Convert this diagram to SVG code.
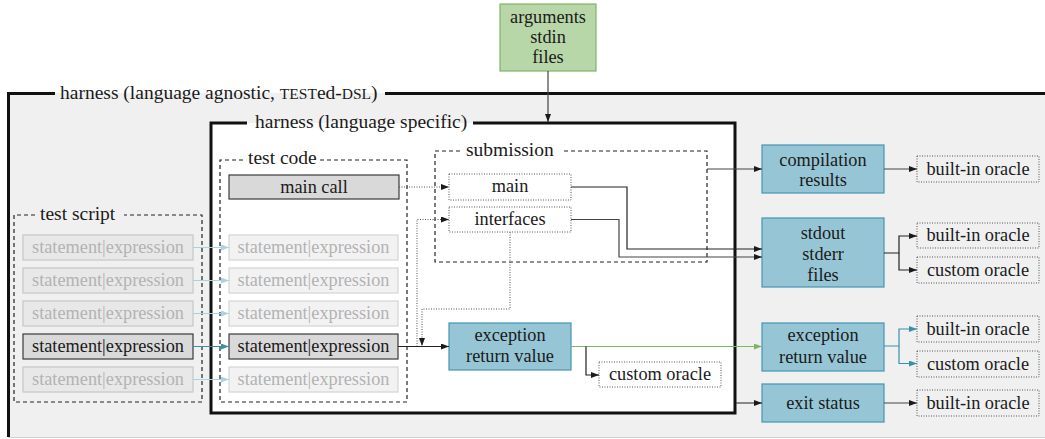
<svg xmlns="http://www.w3.org/2000/svg" width="1045" height="439" viewBox="0 0 1045 439">
<style>
text{font-family:"Liberation Serif","Times New Roman",serif;fill:#1a1a1a;text-anchor:middle}
.t{font-size:18.3px}
.ttl{font-size:19.5px;text-anchor:start}
.sc{font-size:15.5px}
.fade{fill:#b3b3b3}
.dash{fill:none;stroke:#222;stroke-width:1.2;stroke-dasharray:4 3}
.dot{fill:none;stroke:#555;stroke-width:1;stroke-dasharray:1 1.5}
.blue{fill:#96c6d5;stroke:#4396b2;stroke-width:1.2}
.stm{fill:#e8e8e8;stroke:#c6c6c6;stroke-width:1.2}
.stm2{fill:#f2f2f2;stroke:#d4d4d4;stroke-width:1.2}
.act{fill:#d9d9d9;stroke:#3a3a3a;stroke-width:1.2}
.c{fill:none;stroke:#222;stroke-width:1.2}
.cg{fill:none;stroke:#444;stroke-width:1.2}
.ct{fill:none;stroke:#3d8fa8;stroke-width:1.2}
.cl{fill:none;stroke:#a9d3e0;stroke-width:1.2}
</style>
<defs>
<marker id="ab" viewBox="0 0 8 6" refX="8" refY="3" markerWidth="8" markerHeight="6" markerUnits="userSpaceOnUse" orient="auto"><path d="M0,0L8,3L0,6z" fill="#1a1a1a"/></marker>
<marker id="at" viewBox="0 0 8 6" refX="8" refY="3" markerWidth="8" markerHeight="6" markerUnits="userSpaceOnUse" orient="auto"><path d="M0,0L8,3L0,6z" fill="#3d8fa8"/></marker>
<marker id="al" viewBox="0 0 8 6" refX="8" refY="3" markerWidth="8" markerHeight="6" markerUnits="userSpaceOnUse" orient="auto"><path d="M0,0L8,3L0,6z" fill="#a9d3e0"/></marker>
<marker id="ag" viewBox="0 0 8 6" refX="8" refY="3" markerWidth="8" markerHeight="6" markerUnits="userSpaceOnUse" orient="auto"><path d="M0,0L8,3L0,6z" fill="#82b366"/></marker>
</defs>

<g id="harness-agnostic">
<rect x="8" y="93" width="1040" height="344" fill="#f0f0f0"/>
<line x1="8" y1="437.5" x2="1045" y2="437.5" stroke="#d0d0d0" stroke-width="1"/>
<path d="M55,93.5H8.5V437" fill="none" stroke="#111" stroke-width="3"/>
<path d="M385,93.5H1045" fill="none" stroke="#111" stroke-width="3"/>
<text class="ttl" x="60" y="98.5">harness (language agnostic, <tspan class="sc">TEST</tspan>ed-<tspan class="sc">DSL</tspan>)</text>
</g>

<g id="harness-specific">
<rect x="211" y="123" width="524" height="290" fill="#fff"/>
<path d="M247,123H211V413H735V123H473" fill="none" stroke="#111" stroke-width="3"/>
<text class="ttl" x="255" y="128">harness (language specific)</text>
</g>

<g id="inputs">
<rect x="500" y="4" width="96" height="67" fill="#b8d7a8" stroke="#82b366" stroke-width="1.2"/>
<text class="t" x="548" y="23">arguments</text>
<text class="t" x="548" y="43">stdin</text>
<text class="t" x="548" y="63">files</text>
</g>

<g id="test-script">
<path class="dash" d="M35,215H14V402H202V215H124"/>
<text class="ttl" x="40" y="219.5">test script</text>
<rect class="stm" x="23" y="235" width="170" height="25"/>
<text class="t fade" x="108" y="253">statement|expression</text>
<rect class="stm" x="23" y="268" width="170" height="25"/>
<text class="t fade" x="108" y="286">statement|expression</text>
<rect class="stm" x="23" y="301" width="170" height="25"/>
<text class="t fade" x="108" y="319">statement|expression</text>
<rect class="act" x="23" y="334" width="170" height="25"/>
<text class="t" x="108" y="352">statement|expression</text>
<rect class="stm" x="23" y="367" width="170" height="25"/>
<text class="t fade" x="108" y="385">statement|expression</text>
</g>

<g id="test-code">
<path class="dash" d="M243,160H220V402H407V160H320"/>
<text class="ttl" x="248" y="164">test code</text>
<rect class="act" x="229" y="175" width="170" height="24"/>
<text class="t" x="314" y="192.5">main call</text>
<rect class="stm2" x="229" y="235" width="169" height="25"/>
<text class="t fade" x="313.5" y="253">statement|expression</text>
<rect class="stm2" x="229" y="268" width="169" height="25"/>
<text class="t fade" x="313.5" y="286">statement|expression</text>
<rect class="stm2" x="229" y="301" width="169" height="25"/>
<text class="t fade" x="313.5" y="319">statement|expression</text>
<rect class="act" x="229" y="334" width="169" height="25"/>
<text class="t" x="313.5" y="352">statement|expression</text>
<rect class="stm2" x="229" y="367" width="169" height="25"/>
<text class="t fade" x="313.5" y="385">statement|expression</text>
</g>

<g id="submission">
<path class="dash" d="M460,151H435V262H707V151H561"/>
<text class="ttl" x="466" y="156">submission</text>
<rect class="dot" x="449" y="174" width="122" height="26"/>
<text class="t" x="510" y="192">main</text>
<rect class="dot" x="449" y="207" width="122" height="25"/>
<text class="t" x="510" y="225">interfaces</text>
</g>

<g id="exception-inner">
<rect class="blue" x="449" y="323" width="122" height="47"/>
<text class="t" x="510" y="341">exception</text>
<text class="t" x="510" y="362">return value</text>
</g>
<g id="custom-oracle-inner">
<rect class="dot" x="599" y="362" width="122" height="25" fill="#fff"/>
<text class="t" x="660" y="380">custom oracle</text>
</g>

<g id="compilation">
<rect class="blue" x="762" y="145" width="122" height="48"/>
<text class="t" x="823" y="166">compilation</text>
<text class="t" x="823" y="186">results</text>
</g>
<g id="stdout">
<rect class="blue" x="762" y="218" width="122" height="69"/>
<text class="t" x="823" y="239">stdout</text>
<text class="t" x="823" y="260">stderr</text>
<text class="t" x="823" y="281">files</text>
</g>
<g id="exception-outer">
<rect class="blue" x="762" y="323" width="122" height="48"/>
<text class="t" x="823" y="341">exception</text>
<text class="t" x="823" y="363">return value</text>
</g>
<g id="exit-status">
<rect class="blue" x="762" y="384" width="122" height="38"/>
<text class="t" x="823" y="409">exit status</text>
</g>

<g id="oracle-compilation">
<rect class="dot" x="917" y="156" width="122" height="26"/>
<text class="t" x="978" y="174.5">built-in oracle</text>
</g>
<g id="oracle-stdout-builtin">
<rect class="dot" x="917" y="223" width="122" height="25"/>
<text class="t" x="978" y="241">built-in oracle</text>
</g>
<g id="oracle-stdout-custom">
<rect class="dot" x="917" y="257" width="122" height="26"/>
<text class="t" x="978" y="275.5">custom oracle</text>
</g>
<g id="oracle-exception-builtin">
<rect class="dot" x="917" y="316" width="122" height="26"/>
<text class="t" x="978" y="334.5">built-in oracle</text>
</g>
<g id="oracle-exception-custom">
<rect class="dot" x="917" y="351" width="122" height="26"/>
<text class="t" x="978" y="369.5">custom oracle</text>
</g>
<g id="oracle-exit">
<rect class="dot" x="917" y="390" width="122" height="26"/>
<text class="t" x="978" y="408.5">built-in oracle</text>
</g>

<g id="connectors">
<path class="cg" d="M548,71V122" marker-end="url(#ab)"/>
<path class="cl" d="M193,247.5H229" marker-end="url(#al)"/>
<path class="cl" d="M193,280.5H229" marker-end="url(#al)"/>
<path class="cl" d="M193,313.5H229" marker-end="url(#al)"/>
<path class="ct" d="M193,346.5H229" marker-end="url(#at)"/>
<path class="cl" d="M193,379.5H229" marker-end="url(#al)"/>
<path class="dot" d="M399,187H449" marker-end="url(#ab)"/>
<path class="dot" d="M417,346.5V219.5H449" marker-end="url(#ab)"/>
<path class="dot" d="M510,232V309H422V346" marker-end="url(#ab)"/>
<path class="c" d="M398,346.5H449" marker-end="url(#ab)"/>
<path d="M571,346.5H762" stroke="#82b366" stroke-width="1.2" fill="none" marker-end="url(#ag)"/>
<path class="c" d="M586,346.5V375H599" marker-end="url(#ab)"/>
<path class="c" d="M571,187H627V249H762" marker-end="url(#ab)"/>
<path class="cg" d="M571,219.5H619V257H762" marker-end="url(#ab)"/>
<path class="cg" d="M707,169H762" marker-end="url(#ab)"/>
<path class="cg" d="M736,403H762" marker-end="url(#ab)"/>
<path class="cg" d="M884,169H917" marker-end="url(#ab)"/>
<path class="c" d="M884,253H899V236H917" marker-end="url(#ab)"/>
<path class="c" d="M899,253V270H917" marker-end="url(#ab)"/>
<path class="ct" d="M884,346H899V329H917" marker-end="url(#at)"/>
<path class="ct" d="M899,346V363.5H917" marker-end="url(#at)"/>
<path class="cg" d="M884,403H917" marker-end="url(#ab)"/>
</g>
</svg>
